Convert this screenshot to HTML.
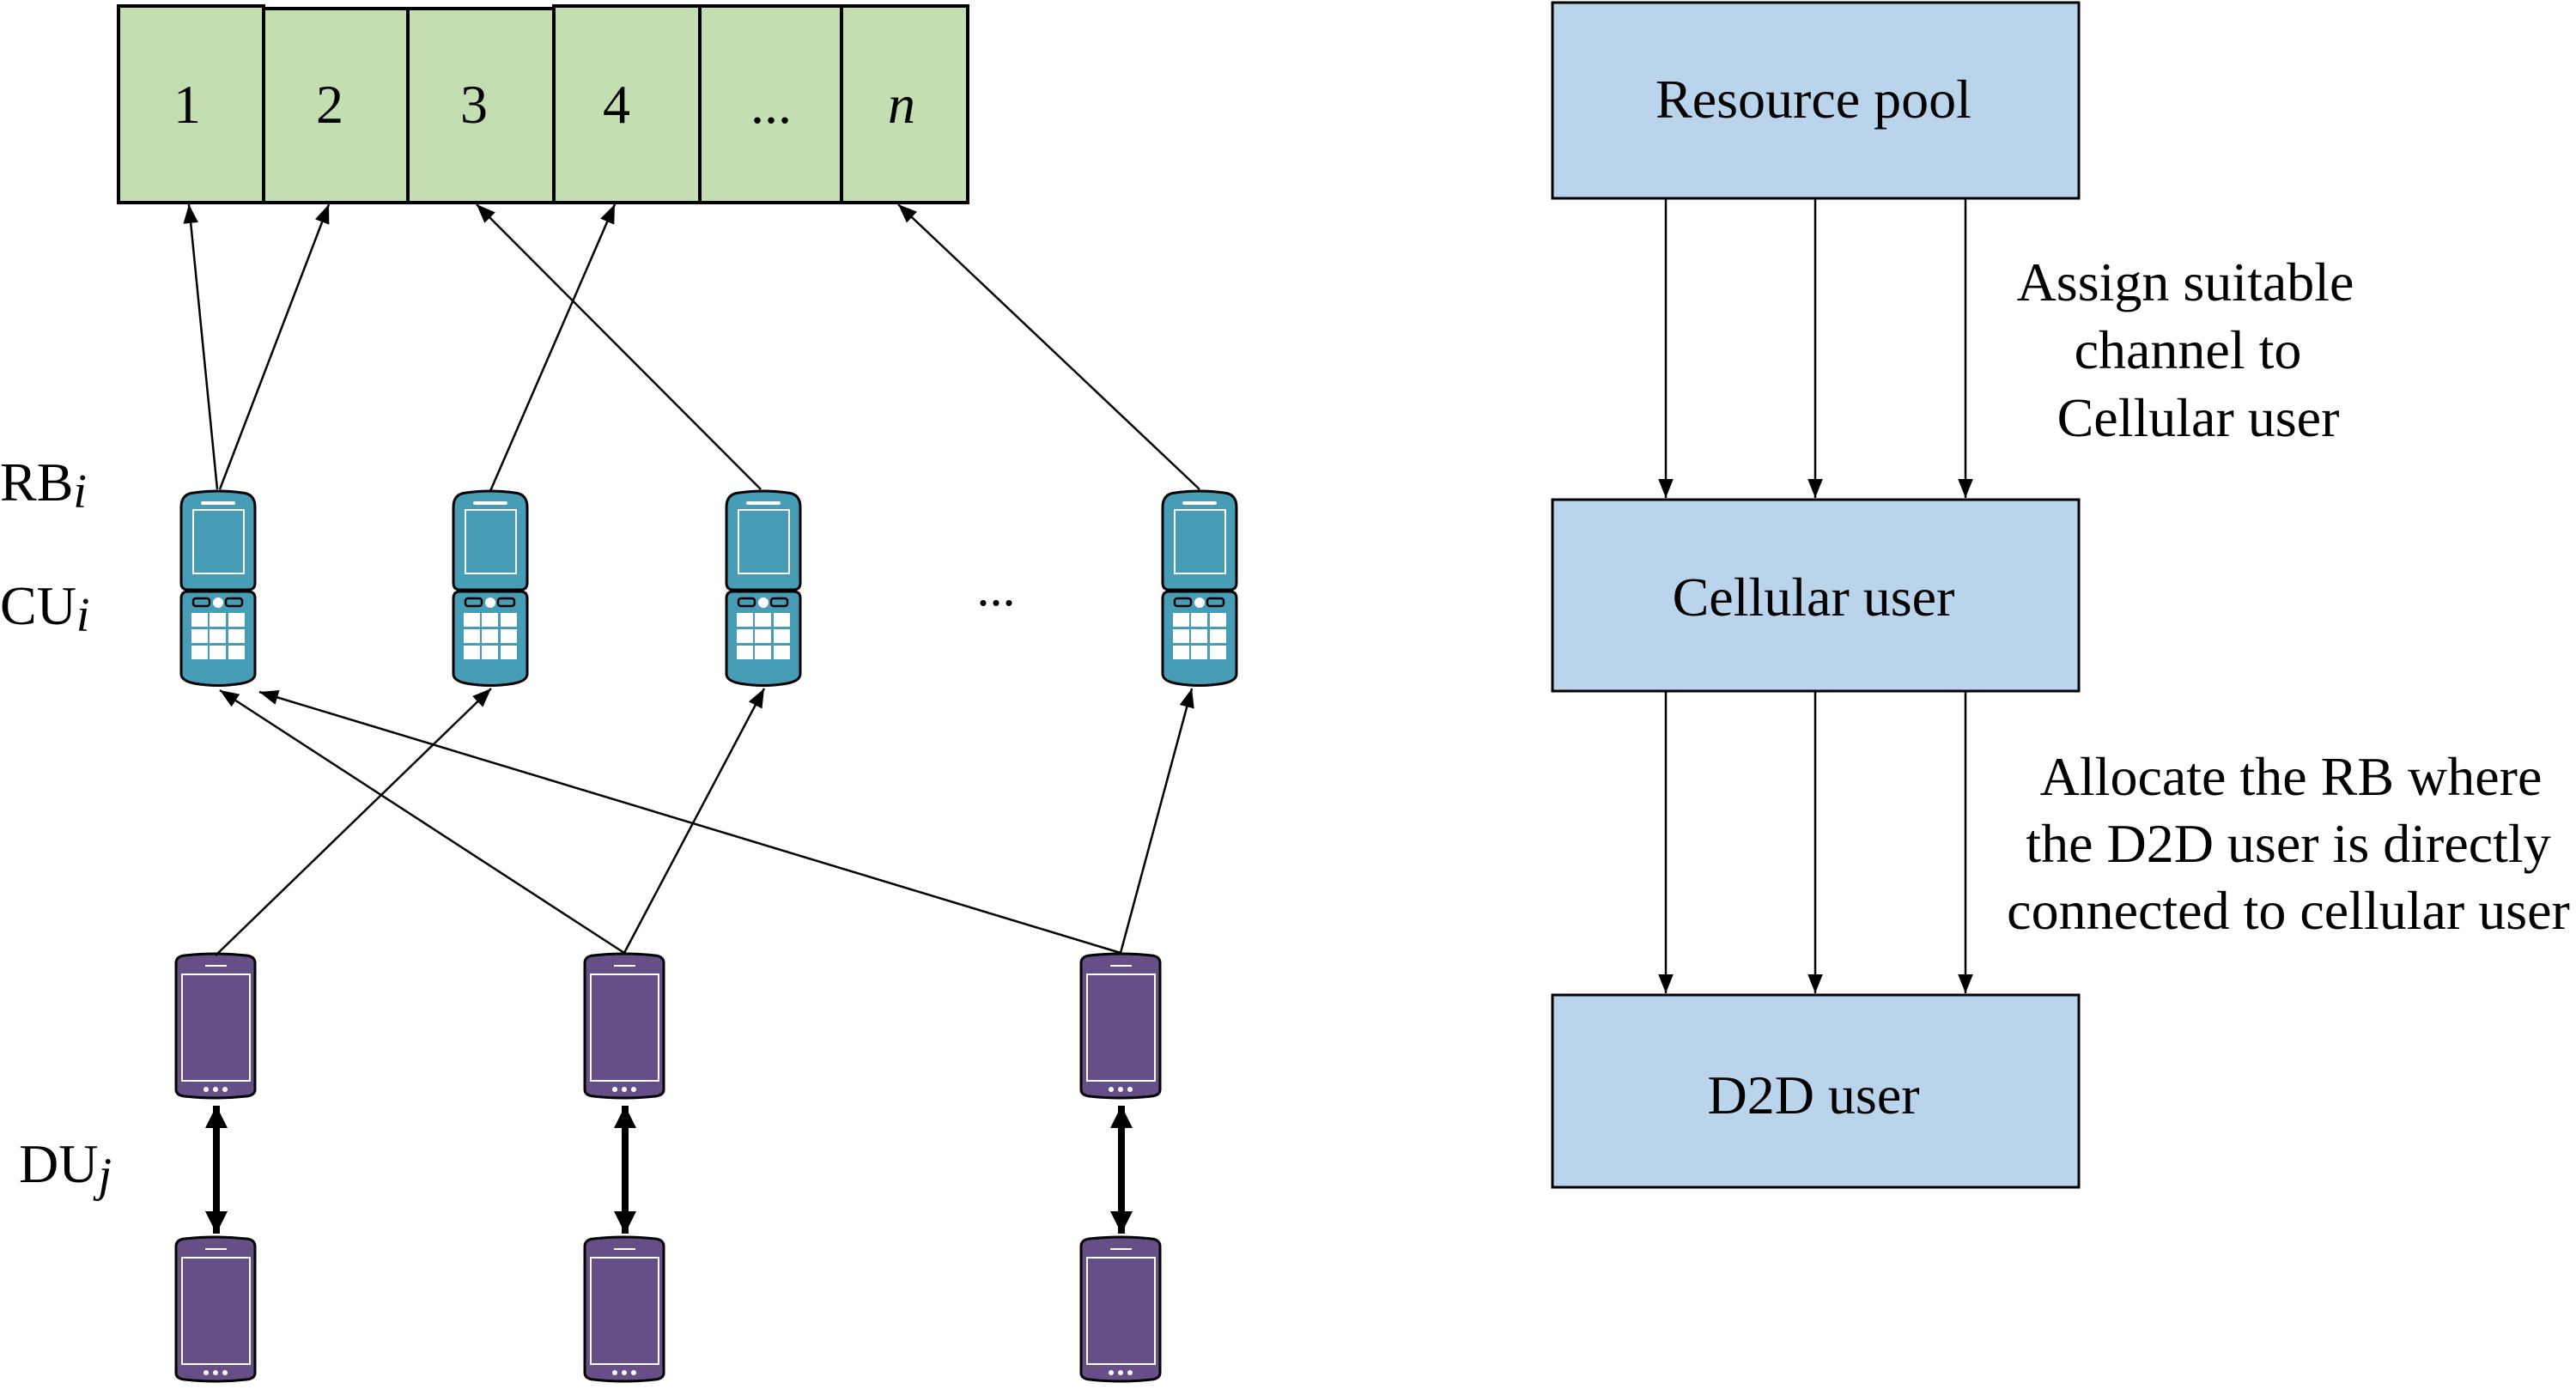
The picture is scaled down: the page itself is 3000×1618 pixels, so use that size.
<!DOCTYPE html>
<html><head><meta charset="utf-8"><style>
html,body{margin:0;padding:0;background:#fff;}
svg{display:block;}
text{font-family:"Liberation Serif",serif;fill:#000;}
</style></head><body>
<svg width="3000" height="1618" viewBox="0 0 3000 1618" xmlns="http://www.w3.org/2000/svg">
<defs>
<marker id="a" viewBox="0 0 10 10" refX="10" refY="5" markerWidth="22" markerHeight="22" markerUnits="userSpaceOnUse" orient="auto"><path d="M0,1 L10,5 L0,9 z" fill="#000"/></marker>
<marker id="b" viewBox="0 0 10 10" refX="10" refY="5" markerWidth="26" markerHeight="26" markerUnits="userSpaceOnUse" orient="auto-start-reverse"><path d="M0,0 L10,5 L0,10 z" fill="#000"/></marker>
<g id="cu">
<path d="M-43,18 Q-43,2 -28,1 Q0,-3 28,1 Q43,2 43,18 L43,106 Q43,114 35,114 L-35,114 Q-43,114 -43,106 Z" fill="#479db6" stroke="#000" stroke-width="3"/>
<rect x="-20" y="11" width="40" height="4" rx="2" fill="#fff"/>
<rect x="-29" y="21" width="59" height="74" fill="none" stroke="#fff" stroke-width="2"/>
<path d="M-43,124 Q-43,116 -35,116 L35,116 Q43,116 43,124 L43,212 Q43,220 28,223 Q0,228 -28,223 Q-43,220 -43,212 Z" fill="#479db6" stroke="#000" stroke-width="3"/>
<rect x="-29" y="124" width="19" height="9" rx="3" fill="#479db6" stroke="#000" stroke-width="2.5"/>
<rect x="9" y="124" width="19" height="9" rx="3" fill="#479db6" stroke="#000" stroke-width="2.5"/>
<circle cx="0" cy="129" r="6" fill="#fff"/>
<g fill="#fff">
<rect x="-31" y="141" width="19" height="16"/><rect x="-10" y="141" width="19" height="16"/><rect x="12" y="141" width="19" height="16"/>
<rect x="-31" y="160" width="19" height="16"/><rect x="-10" y="160" width="19" height="16"/><rect x="12" y="160" width="19" height="16"/>
<rect x="-31" y="179" width="19" height="16"/><rect x="-10" y="179" width="19" height="16"/><rect x="12" y="179" width="19" height="16"/>
</g>
</g>
<g id="du">
<path d="M-46,11 Q-46,3 -36,2 Q0,-2 36,2 Q46,3 46,11 L46,158 Q46,165 36,166 Q0,170 -36,166 Q-46,165 -46,158 Z" fill="#664f86" stroke="#000" stroke-width="3"/>
<rect x="-12" y="13" width="25" height="2" fill="#fff"/>
<rect x="-39" y="24" width="79" height="124" fill="none" stroke="#fff" stroke-width="2"/>
<circle cx="-11" cy="158" r="3" fill="#fff"/><circle cx="0" cy="158" r="3" fill="#fff"/><circle cx="11" cy="158" r="3" fill="#fff"/>
</g>
</defs>

<g fill="#c3deb1" stroke="#000" stroke-width="4">
<rect x="138" y="7" width="169" height="229"/>
<rect x="307" y="10" width="168" height="226"/>
<rect x="475" y="10" width="170" height="226"/>
<rect x="645" y="7" width="170" height="229"/>
<rect x="815" y="7" width="165" height="229"/>
<rect x="980" y="7" width="147" height="229"/>
</g>
<g font-size="64" text-anchor="middle">
<text x="218" y="143">1</text>
<text x="384" y="143">2</text>
<text x="552" y="143">3</text>
<text x="718" y="143">4</text>
<text x="898" y="143">...</text>
<text x="1050" y="143" font-style="italic">n</text>
</g>

<text x="0" y="583" font-size="64">RB<tspan font-style="italic" font-size="56" dy="8">i</tspan></text>
<text x="0" y="727" font-size="64">CU<tspan font-style="italic" font-size="56" dy="8">i</tspan></text>
<text x="22" y="1377" font-size="64">DU<tspan font-style="italic" font-size="56" dy="10">j</tspan></text>
<text x="1160" y="705" font-size="60" text-anchor="middle">...</text>

<use href="#cu" x="254" y="573"/>
<use href="#cu" x="571" y="573"/>
<use href="#cu" x="889" y="573"/>
<use href="#cu" x="1397" y="573"/>
<use href="#du" x="251" y="1111"/>
<use href="#du" x="727" y="1111"/>
<use href="#du" x="1305" y="1111"/>
<use href="#du" x="251" y="1441"/>
<use href="#du" x="727" y="1441"/>
<use href="#du" x="1305" y="1441"/>

<g stroke="#000" stroke-width="2.5" fill="none" marker-end="url(#a)">
<line x1="253" y1="570" x2="220" y2="238"/>
<line x1="256" y1="570" x2="383" y2="238"/>
<line x1="571" y1="572" x2="716" y2="238"/>
<line x1="886" y1="570" x2="555" y2="238"/>
<line x1="1397" y1="570" x2="1046" y2="238"/>
<line x1="251" y1="1113" x2="572" y2="802"/>
<line x1="727" y1="1110" x2="256" y2="804"/>
<line x1="727" y1="1110" x2="890" y2="802"/>
<line x1="1305" y1="1110" x2="302" y2="806"/>
<line x1="1305" y1="1110" x2="1388" y2="802"/>
</g>
<g stroke="#000" stroke-width="8" marker-start="url(#b)" marker-end="url(#b)">
<line x1="252" y1="1288" x2="252" y2="1437"/>
<line x1="728" y1="1288" x2="728" y2="1437"/>
<line x1="1306" y1="1288" x2="1306" y2="1437"/>
</g>

<g fill="#bad4ec" stroke="#000" stroke-width="3">
<rect x="1808" y="3" width="613" height="228"/>
<rect x="1808" y="582" width="613" height="223"/>
<rect x="1808" y="1159" width="613" height="224"/>
</g>
<g stroke="#000" stroke-width="2.5" marker-end="url(#a)">
<line x1="1940" y1="231" x2="1940" y2="580"/>
<line x1="2114" y1="231" x2="2114" y2="580"/>
<line x1="2289" y1="231" x2="2289" y2="580"/>
<line x1="1940" y1="805" x2="1940" y2="1157"/>
<line x1="2114" y1="805" x2="2114" y2="1157"/>
<line x1="2289" y1="805" x2="2289" y2="1157"/>
</g>
<g font-size="64" text-anchor="middle">
<text x="2112" y="137">Resource pool</text>
<text x="2112" y="717">Cellular user</text>
<text x="2112" y="1297">D2D user</text>
<text x="2545" y="350">Assign suitable</text>
<text x="2548" y="429">channel to</text>
<text x="2560" y="508">Cellular user</text>
<text x="2668" y="926">Allocate the RB where</text>
<text x="2665" y="1004">the D2D user is directly</text>
<text x="2665" y="1082">connected to cellular user</text>
</g>
</svg>
</body></html>
